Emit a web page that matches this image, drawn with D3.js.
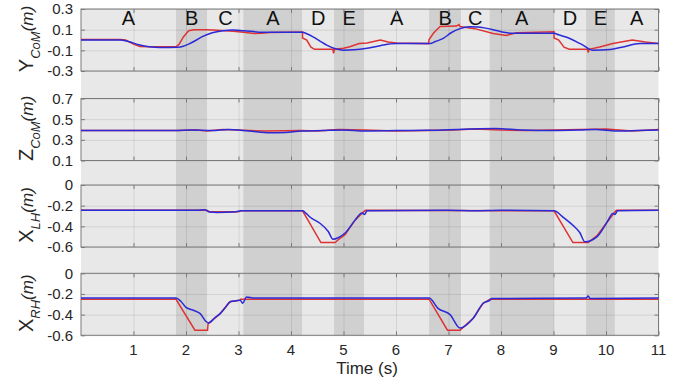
<!DOCTYPE html>
<meta charset="utf-8">
<style>
body {margin: 0; background: #fff;}
text {font-family: "Liberation Sans", Arial, sans-serif; fill: #262626;}
.grid line {stroke: #000; stroke-opacity: 0.09;}
.grid path {display: none;}
.tk line {stroke: #7a7a7a;}
.tk path {display: none;}
.tk text {display: none;}
</style>
<html>
<body>
<script src="https://d3js.org/d3.v7.min.js"></script>
<script>
var width = 688,
    height = 383;

// phase boundaries (s) and names
var phaseEdges = [0, 1.81, 2.41, 3.09, 4.22, 4.82, 5.40, 6.63, 7.24, 7.78, 9.01, 9.62, 10.17, 11];
var phaseNames = ["A", "B", "C", "A", "D", "E", "A", "B", "C", "A", "D", "E", "A"];

var timeTicks = [1, 2, 3, 4, 5, 6, 7, 8, 9, 10, 11];

// [time, value] pairs, red = reference, blue = measured
var yComRef = [[0,0.005],[0.75,0.005],[0.85,0.0],[1.0,-0.04],[1.12,-0.062],[1.3,-0.065],[1.81,-0.065],[1.87,-0.04],[1.95,0.03],[2.05,0.09],[2.15,0.1],[2.4,0.1],[2.6,0.095],[2.9,0.085],[3.1,0.075],[3.3,0.063],[3.45,0.065],[3.6,0.073],[4.22,0.078],[4.22,0.02],[4.3,0.0],[4.38,-0.07],[4.45,-0.09],[4.8,-0.09],[4.81,-0.13],[4.83,-0.09],[5.0,-0.08],[5.12,-0.065],[5.3,-0.035],[5.45,-0.03],[5.7,0.0],[5.85,-0.02],[6.0,-0.03],[6.62,-0.035],[6.63,0.005],[6.72,0.07],[6.84,0.13],[7.15,0.135],[7.2,0.15],[7.22,0.13],[7.5,0.11],[7.85,0.063],[8.1,0.044],[8.3,0.07],[9.01,0.08],[9.01,0.02],[9.1,0.0],[9.2,-0.07],[9.3,-0.09],[9.65,-0.09],[9.66,-0.12],[9.68,-0.09],[9.88,-0.067],[10.13,-0.034],[10.5,0.0],[10.75,-0.02],[11,-0.034]];
var yComMeas = [[0,0.0],[0.75,0.0],[0.9,-0.015],[1.1,-0.045],[1.3,-0.065],[1.5,-0.072],[1.85,-0.07],[1.95,-0.06],[2.05,-0.04],[2.2,0.0],[2.3,0.03],[2.5,0.07],[2.7,0.09],[2.9,0.097],[3.1,0.09],[3.47,0.075],[4.22,0.075],[4.3,0.06],[4.42,0.03],[4.55,-0.01],[4.68,-0.05],[4.85,-0.085],[5.0,-0.098],[5.2,-0.095],[5.45,-0.08],[5.7,-0.055],[6.0,-0.035],[6.65,-0.035],[6.75,-0.015],[6.9,0.015],[7.05,0.07],[7.22,0.11],[7.4,0.128],[7.55,0.125],[7.85,0.1],[8.05,0.075],[8.23,0.065],[9.01,0.065],[9.1,0.05],[9.31,0.015],[9.45,-0.02],[9.56,-0.05],[9.75,-0.098],[10.08,-0.092],[10.3,-0.07],[10.65,-0.034],[11,-0.035]];

var zComRef = [[0,0.39],[1.8,0.39],[2.2,0.395],[2.4,0.385],[2.7,0.4],[3.0,0.395],[3.5,0.385],[4.2,0.39],[4.5,0.385],[4.9,0.4],[5.4,0.395],[6.0,0.385],[6.6,0.39],[7.1,0.395],[7.5,0.405],[8.0,0.395],[8.5,0.39],[9.0,0.395],[9.5,0.4],[10.0,0.405],[10.5,0.385],[11,0.4]];
var zComMeas = [[0,0.39],[1.8,0.39],[2.1,0.395],[2.5,0.39],[2.8,0.4],[3.2,0.385],[3.6,0.368],[3.9,0.372],[4.2,0.385],[4.6,0.39],[5.0,0.395],[5.4,0.385],[6.0,0.39],[6.6,0.392],[7.0,0.398],[7.4,0.405],[7.9,0.41],[8.4,0.395],[9.0,0.39],[9.5,0.395],[9.8,0.4],[10.2,0.385],[10.6,0.39],[11,0.395]];

var xLhRef = [[0,-0.245],[2.4,-0.245],[2.45,-0.26],[3.0,-0.26],[3.05,-0.25],[4.22,-0.25],[4.57,-0.557],[4.84,-0.557],[4.9,-0.53],[5.03,-0.48],[5.22,-0.34],[5.38,-0.26],[5.42,-0.245],[9.01,-0.25],[9.37,-0.557],[9.66,-0.557],[9.83,-0.49],[10.02,-0.36],[10.17,-0.26],[10.2,-0.245],[11,-0.245]];
var xLhMeas = [[0,-0.245],[2.2,-0.245],[2.35,-0.24],[2.45,-0.262],[2.6,-0.265],[2.9,-0.262],[3.05,-0.25],[4.22,-0.25],[4.3,-0.28],[4.36,-0.31],[4.55,-0.37],[4.71,-0.45],[4.8,-0.525],[4.9,-0.51],[5.03,-0.465],[5.22,-0.34],[5.35,-0.27],[5.4,-0.285],[5.45,-0.25],[7.0,-0.245],[7.5,-0.25],[8.0,-0.245],[9.01,-0.25],[9.18,-0.31],[9.37,-0.39],[9.5,-0.46],[9.6,-0.55],[9.83,-0.5],[10.02,-0.36],[10.13,-0.275],[10.17,-0.285],[10.22,-0.25],[11,-0.245]];

var xRhRef = [[0,-0.252],[1.81,-0.252],[2.17,-0.55],[2.41,-0.55],[2.42,-0.49],[2.65,-0.39],[2.84,-0.275],[2.96,-0.265],[3.03,-0.26],[3.04,-0.25],[6.63,-0.25],[6.98,-0.55],[7.22,-0.55],[7.47,-0.435],[7.66,-0.29],[7.79,-0.25],[11,-0.25]];
var xRhMeas = [[0,-0.24],[1.81,-0.24],[1.9,-0.27],[2.0,-0.33],[2.15,-0.36],[2.27,-0.39],[2.39,-0.47],[2.43,-0.48],[2.55,-0.43],[2.65,-0.39],[2.75,-0.33],[2.84,-0.275],[2.96,-0.265],[3.03,-0.26],[3.08,-0.29],[3.15,-0.23],[3.3,-0.24],[6.63,-0.24],[6.8,-0.34],[7.03,-0.4],[7.22,-0.53],[7.47,-0.435],[7.66,-0.29],[7.79,-0.26],[7.82,-0.245],[9.62,-0.24],[9.66,-0.22],[9.7,-0.245],[11,-0.24]];

var panels = [
  {sym: "Y", sub: "CoM", dom: [-0.3, 0.3], ticks: [-0.3, -0.1, 0.1, 0.3], ref: yComRef, meas: yComMeas},
  {sym: "Z", sub: "CoM", dom: [0.1, 0.7], ticks: [0.1, 0.3, 0.5, 0.7], ref: zComRef, meas: zComMeas},
  {sym: "X", sub: "LH", dom: [-0.6, 0], ticks: [-0.6, -0.4, -0.2, 0], ref: xLhRef, meas: xLhMeas},
  {sym: "X", sub: "RH", dom: [-0.6, 0], ticks: [-0.6, -0.4, -0.2, 0], ref: xRhRef, meas: xRhMeas}
];

var left = 81, right = 658.5;
var panelTop = [9, 98.5, 185, 273.3], panelH = 62;

var svg = d3.select("body").append("svg")
    .attr("width", width)
    .attr("height", height);

var x = d3.scaleLinear().domain([0, 11]).range([left, right]);

// phase shading behind all panels
svg.selectAll("rect.phase")
  .data(phaseNames)
  .enter().append("rect")
  .attr("class", "phase")
  .attr("x", function(d, i) { return x(phaseEdges[i]); })
  .attr("width", function(d, i) { return x(phaseEdges[i + 1]) - x(phaseEdges[i]); })
  .attr("y", panelTop[0])
  .attr("height", panelTop[3] + panelH - panelTop[0])
  .attr("fill", function(d, i) { return i % 2 ? "#d0d0d0" : "#e8e8e8"; });

svg.selectAll("text.phase")
  .data(phaseNames)
  .enter().append("text")
  .attr("x", function(d, i) { return x((phaseEdges[i] + phaseEdges[i + 1]) / 2); })
  .attr("y", 25)
  .attr("text-anchor", "middle")
  .style("font-size", "20px")
  .style("fill", "#111")
  .text(function(d) { return d; });

var line = d3.line()
    .x(function(d) { return x(d[0]); });

panels.forEach(function(p, k) {
  var top = panelTop[k];
  var y = d3.scaleLinear().domain(p.dom).range([top + panelH, top]);
  var g = svg.append("g");

  // grid
  g.append("g").attr("class", "grid")
    .attr("transform", "translate(" + left + ",0)")
    .call(d3.axisLeft(y).tickValues(p.ticks).tickSize(-(right - left)).tickFormat(""));
  g.append("g").attr("class", "grid")
    .attr("transform", "translate(0," + (top + panelH) + ")")
    .call(d3.axisBottom(x).tickValues(timeTicks).tickSize(-panelH).tickFormat(""));

  // inner ticks on all sides
  g.append("g").attr("class", "tk").attr("transform", "translate(" + left + ",0)")
    .call(d3.axisLeft(y).tickValues(p.ticks).tickSize(-4));
  g.append("g").attr("class", "tk").attr("transform", "translate(" + right + ",0)")
    .call(d3.axisRight(y).tickValues(p.ticks).tickSize(-4));
  g.append("g").attr("class", "tk").attr("transform", "translate(0," + (top + panelH) + ")")
    .call(d3.axisBottom(x).tickValues(timeTicks).tickSize(-4));
  g.append("g").attr("class", "tk").attr("transform", "translate(0," + top + ")")
    .call(d3.axisTop(x).tickValues(timeTicks).tickSize(-4));

  // box
  g.append("rect")
    .attr("x", left).attr("y", top)
    .attr("width", right - left).attr("height", panelH)
    .attr("fill", "none").attr("stroke", "#7a7a7a");

  // tick labels
  g.selectAll("text.yl")
    .data(p.ticks)
    .enter().append("text")
    .attr("x", 73)
    .attr("y", function(d) { return y(d); })
    .attr("dy", "0.36em")
    .attr("text-anchor", "end")
    .style("font-size", "15px")
    .text(function(d) { return d; });

  line.y(function(d) { return y(d[1]); });
  g.append("path").datum(p.ref)
    .attr("fill", "none").attr("stroke", "#dd3333").attr("stroke-width", 1.5)
    .attr("d", line.curve(d3.curveLinear));
  g.append("path").datum(p.meas)
    .attr("fill", "none").attr("stroke", "#2a2ad8").attr("stroke-width", 1.5)
    .attr("d", line.curve(d3.curveMonotoneX));

  // y label
  var lab = g.append("text")
    .attr("transform", "translate(33," + (top + panelH / 2 - 1) + ") rotate(-90)")
    .attr("text-anchor", "middle");
  lab.append("tspan").style("font-size", "20px").text(p.sym);
  lab.append("tspan").style("font-size", "13px").style("font-style", "italic").attr("dy", 7).text(p.sub);
  lab.append("tspan").style("font-size", "17px").style("font-style", "italic").attr("dy", -7).text("(m)");
});

// bottom time labels
svg.selectAll("text.xl")
  .data(timeTicks)
  .enter().append("text")
  .attr("x", function(d) { return x(d); })
  .attr("y", 355)
  .attr("text-anchor", "middle")
  .style("font-size", "15px")
  .text(function(d) { return d; });

svg.append("text")
  .attr("x", 367)
  .attr("y", 374)
  .attr("text-anchor", "middle")
  .style("font-size", "17px")
  .text("Time (s)");
</script>
</body>
</html>
